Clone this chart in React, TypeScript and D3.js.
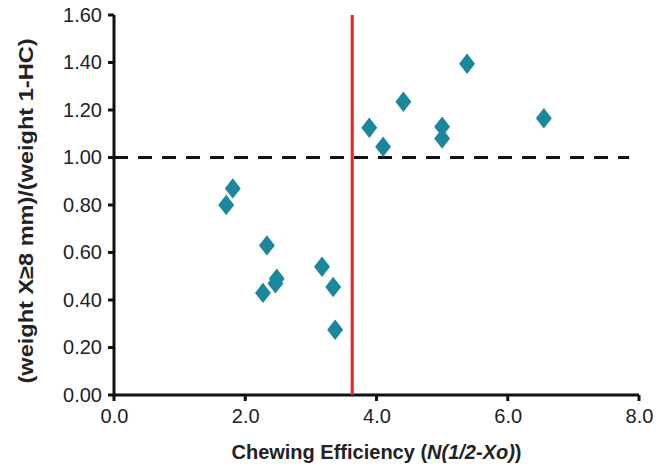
import React, { useEffect, useRef } from "react";
import { select, scaleLinear, axisBottom, axisLeft, symbol, symbolDiamond } from "d3";

// chewing efficiency N(1/2-Xo) and weight ratio
const efficiency = [1.71, 1.81, 2.33, 2.27, 2.48, 2.46, 3.17, 3.34, 3.37, 3.89, 4.1, 4.41, 5.0, 5.0, 5.38, 6.55];
const ratio = [0.8, 0.87, 0.63, 0.43, 0.49, 0.47, 0.54, 0.455, 0.275, 1.125, 1.045, 1.235, 1.13, 1.08, 1.395, 1.165];
const xTicks = [0, 2, 4, 6, 8];
const yTicks = [0, 0.2, 0.4, 0.6, 0.8, 1.0, 1.2, 1.4, 1.6];
const threshold = 3.63;
const reference = 1.0;

const width = 670;
const height = 470;
const margin = { top: 15, right: 31, bottom: 75, left: 114 };
const font = "'Liberation Sans', Arial, sans-serif";

function ScatterChart() {
  const svgRef = useRef<SVGSVGElement>(null);

  useEffect(() => {
    const svg = select(svgRef.current);
    svg.selectAll("*").remove();

    const xScale = scaleLinear().domain([0, 8]).range([margin.left, width - margin.right]);
    const yScale = scaleLinear().domain([0, 1.6]).range([height - margin.bottom, margin.top]);

    // axes (labels from d3, lines drawn thick below)
    const xAxis = axisBottom(xScale).tickValues(xTicks).tickFormat(d => (+d).toFixed(1)).tickSize(6).tickPadding(4);
    const gx = svg.append("g")
      .attr("transform", `translate(0, ${yScale(0)})`)
      .call(xAxis);

    const yAxis = axisLeft(yScale).tickValues(yTicks).tickFormat(d => (+d).toFixed(2)).tickSize(6).tickPadding(6);
    const gy = svg.append("g")
      .attr("transform", `translate(${xScale(0)}, 0)`)
      .call(yAxis);

    [gx, gy].forEach(g => {
      g.select(".domain").remove();
      g.selectAll(".tick line").remove();
      g.selectAll(".tick text")
        .attr("fill", "#222")
        .style("font-family", font)
        .style("font-size", "20px");
    });
    gx.selectAll(".tick text").attr("dy", "0.9em");

    const axisLines = svg.append("g").attr("stroke", "#111").attr("stroke-width", 3);
    axisLines.append("line")
      .attr("x1", xScale(0)).attr("x2", xScale(8))
      .attr("y1", yScale(0)).attr("y2", yScale(0));
    axisLines.append("line")
      .attr("x1", xScale(0)).attr("x2", xScale(0))
      .attr("y1", yScale(0) + 1.5).attr("y2", yScale(1.6));
    axisLines.selectAll(".xt")
      .data(xTicks)
      .join("line")
      .attr("x1", d => xScale(d)).attr("x2", d => xScale(d))
      .attr("y1", yScale(0)).attr("y2", yScale(0) + 6);
    axisLines.selectAll(".yt")
      .data(yTicks)
      .join("line")
      .attr("x1", xScale(0) - 6).attr("x2", xScale(0))
      .attr("y1", d => yScale(d)).attr("y2", d => yScale(d));

    // reference lines
    svg.append("line")
      .attr("x1", xScale(0)).attr("x2", xScale(7.85))
      .attr("y1", yScale(reference)).attr("y2", yScale(reference))
      .attr("stroke", "#111").attr("stroke-width", 3)
      .attr("stroke-dasharray", "14 10");

    svg.append("line")
      .attr("x1", xScale(threshold)).attr("x2", xScale(threshold))
      .attr("y1", yScale(0)).attr("y2", yScale(1.6))
      .attr("stroke", "#e8201e").attr("stroke-width", 3);

    // points
    const diamond = symbol().type(symbolDiamond).size(120);
    svg.append("g")
      .selectAll("path")
      .data(efficiency.map((x, i) => ({ x, y: ratio[i] })))
      .join("path")
      .attr("d", diamond)
      .attr("transform", d => `translate(${xScale(d.x)}, ${yScale(d.y)}) scale(1.35, 1)`)
      .attr("fill", "#1a879c");

    // axis titles
    const xt = svg.append("text")
      .attr("x", (xScale(0) + xScale(8)) / 2)
      .attr("y", 459)
      .attr("text-anchor", "middle")
      .style("font-family", font)
      .style("font-size", "20px")
      .style("font-weight", "bold")
      .attr("fill", "#222");
    xt.append("tspan").text("Chewing Efficiency (");
    xt.append("tspan").style("font-style", "italic").text("N(1/2-Xo)");
    xt.append("tspan").text(")");

    svg.append("text")
      .attr("transform", `translate(33, 211) rotate(-90)`)
      .attr("text-anchor", "middle")
      .attr("textLength", 345)
      .attr("lengthAdjust", "spacingAndGlyphs")
      .style("font-family", font)
      .style("font-size", "21px")
      .style("font-weight", "bold")
      .attr("fill", "#222")
      .text("(weight X≥8 mm)/(weight 1-HC)");
  }, []);

  return (
    <svg
      ref={svgRef}
      width={width}
      height={height}
      style={{ position: "absolute", left: 0, top: 0, background: "#fff" }}
    />
  );
}

export default function App() {
  return <ScatterChart />;
}
